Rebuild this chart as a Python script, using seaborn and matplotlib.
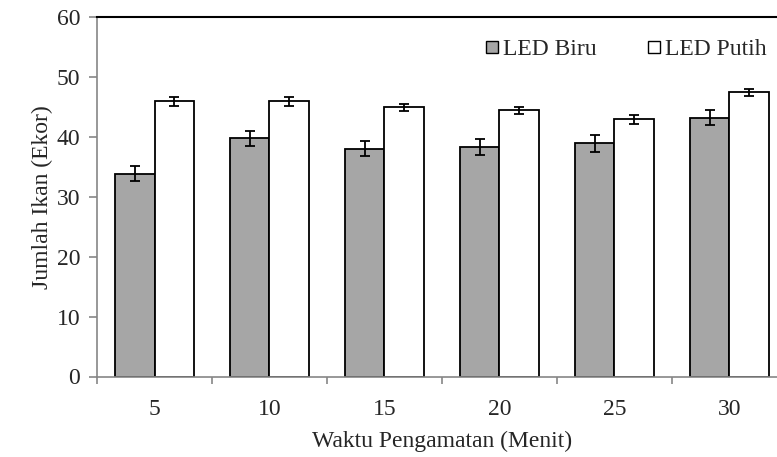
import numpy as np
import pandas as pd
import matplotlib
matplotlib.use('Agg')
import matplotlib.pyplot as plt
import seaborn as sns
from matplotlib.lines import Line2D

# data
waktu = ['5', '10', '15', '20', '25', '30']
led_biru = [33.8, 39.8, 38.0, 38.3, 38.9, 43.2]
led_putih = [45.9, 45.9, 44.9, 44.4, 42.9, 47.4]
err_biru = [1.25, 1.25, 1.25, 1.3, 1.4, 1.28]
err_putih = [0.78, 0.78, 0.64, 0.58, 0.8, 0.63]

df = pd.DataFrame({
    'Waktu': waktu * 2,
    'Jumlah': led_biru + led_putih,
    'Lampu': ['LED Biru'] * 6 + ['LED Putih'] * 6,
})

FS = 17

sns.set_style('white')
plt.rcParams['font.family'] = ['Liberation Serif', 'DejaVu Serif']
plt.rcParams['font.size'] = FS

fig = plt.figure(figsize=(7.77, 4.57), dpi=100)
ax = fig.add_axes([97 / 777, 80.5 / 457, 690 / 777, 359.5 / 457])

colors = {'LED Biru': '#a6a6a6', 'LED Putih': 'white'}
sns.barplot(data=df, x='Waktu', y='Jumlah', hue='Lampu', order=waktu,
            palette=colors, width=0.687, edgecolor='black', linewidth=1.3,
            errorbar=None, ax=ax, legend=False)

# error bars on top of each bar
for cont, errs in zip(ax.containers, [err_biru, err_putih]):
    xs = [p.get_x() + p.get_width() / 2 for p in cont.patches]
    ys = [p.get_height() for p in cont.patches]
    ax.errorbar(xs, ys, yerr=errs, fmt='none', ecolor='black',
                elinewidth=1.3, capsize=3.6, capthick=1.3, zorder=5)

ax.set_xlim(-0.5, 5.5)
ax.set_ylim(0, 60)
ax.set_yticks(np.arange(0, 61, 10))

# ticks between the categories
ax.set_xticks(np.arange(-0.5, 5.6, 1), minor=True)
ax.tick_params(axis='x', which='major', bottom=True, length=0, pad=16)
ax.tick_params(axis='x', which='minor', bottom=True, length=5, width=1.2,
               color='#868686', direction='out')
ax.tick_params(axis='y', left=True, length=6, width=1.2, color='#868686',
               direction='out', pad=6)
ax.tick_params(labelsize=FS)

for s in ['left', 'bottom']:
    ax.spines[s].set_color('#868686')
    ax.spines[s].set_linewidth(1.2)
ax.spines['top'].set_color('black')
ax.spines['top'].set_linewidth(1.5)
ax.spines['right'].set_visible(False)

ax.set_xlabel('Waktu Pengamatan (Menit)', fontsize=FS, labelpad=8)
ax.set_ylabel('Jumlah Ikan (Ekor)', fontsize=FS, labelpad=3)

handles = [
    Line2D([], [], marker='s', linestyle='none', markersize=8.5,
           markerfacecolor='#a6a6a6', markeredgecolor='black', markeredgewidth=1.0),
    Line2D([], [], marker='s', linestyle='none', markersize=8.5,
           markerfacecolor='white', markeredgecolor='black', markeredgewidth=1.0),
]
fig.legend(handles, ['LED Biru', 'LED Putih'], loc='upper right',
           bbox_to_anchor=(776 / 777, 1 - 29 / 457), ncol=2, frameon=False,
           handlelength=0.5, handletextpad=0.2, columnspacing=2.2,
           fontsize=FS, borderaxespad=0)

fig.savefig('out.png', dpi=100)
